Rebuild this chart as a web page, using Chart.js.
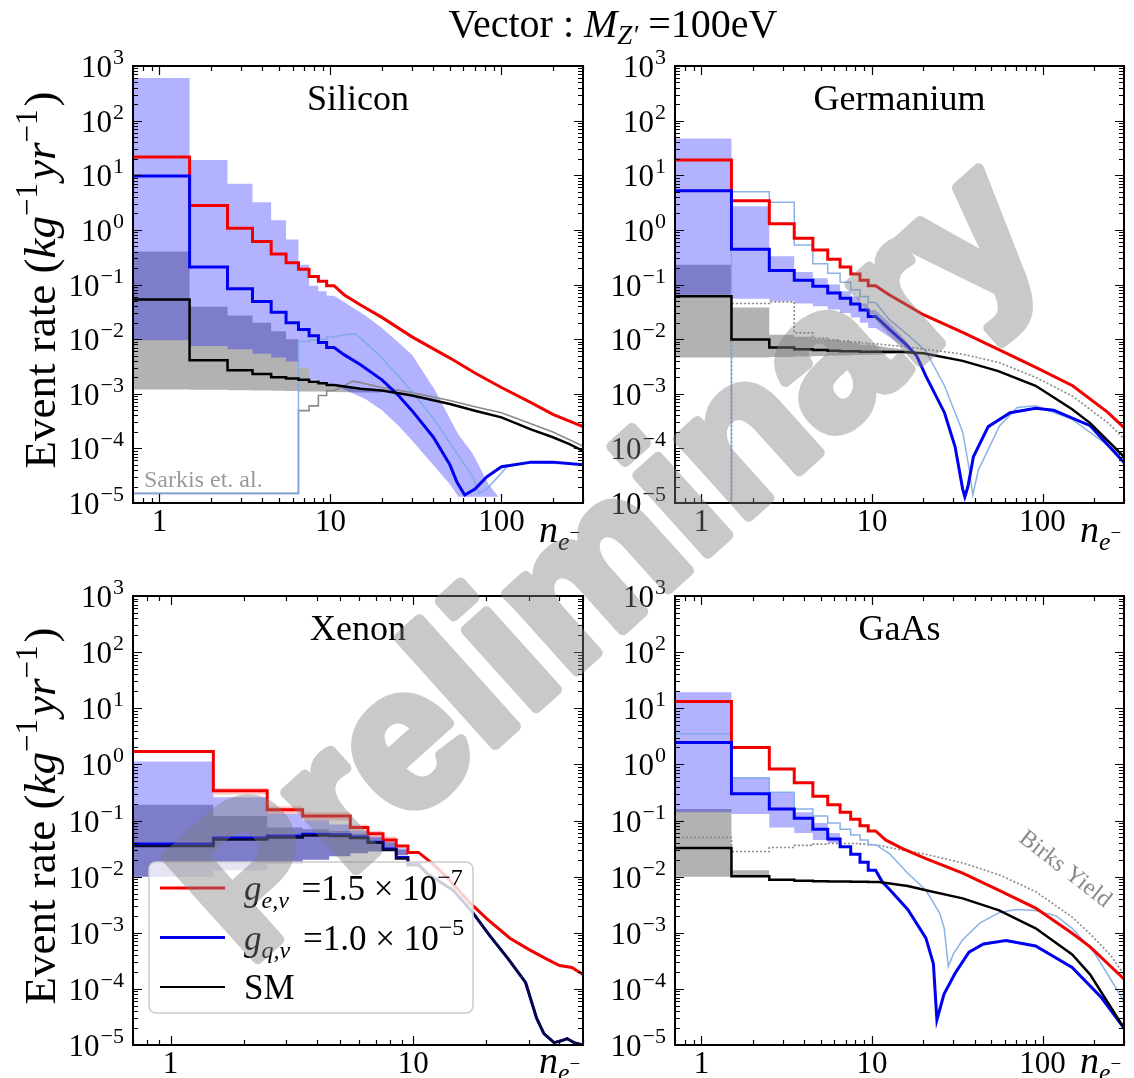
<!DOCTYPE html>
<html>
<head>
<meta charset="utf-8">
<script src="https://cdn.jsdelivr.net/npm/chart.js@4.4.1/dist/chart.umd.min.js"></script>
<style>
  body { margin: 0; background: #fff; width: 1134px; height: 1078px; position: relative; overflow: hidden; }
  canvas { position: absolute; }
  #overlay { left: 0; top: 0; pointer-events: none; z-index: 10; }
</style>
</head>
<body>
<canvas id="overlay" width="1134" height="1078"></canvas>
<script>
// ---------- data (bins = values of n_e = 1,2,3,... drawn as steps; tails = read points at larger n_e) ----------

// Silicon
const siRedBins = [21.6, 2.8, 1.07, 0.61, 0.36, 0.25, 0.19, 0.14, 0.115, 0.095];
const siRedTailN = [12, 15, 20, 30, 50, 70, 100, 150, 200, 300];
const siRedTailV = [0.065, 0.042, 0.025, 0.011, 0.0045, 0.0024, 0.0013, 0.00068, 0.00042, 0.00025];
const siBlueBins = [9.7, 0.21, 0.084, 0.049, 0.031, 0.02, 0.015, 0.0115, 0.0087, 0.007];
const siBlueTailN = [12, 15, 20, 25, 30, 40, 50, 55, 61, 70, 82, 100, 150, 200, 300];
const siBlueTailV = [0.0052, 0.0034, 0.0018, 0.00093, 0.00049, 0.00016, 0.00005, 0.000024, 0.000014, 0.000018, 0.00003, 0.000046, 0.000056, 0.000056, 0.00005];
const siBlackBins = [0.053, 0.0041, 0.0027, 0.0023, 0.002, 0.0019, 0.0018, 0.00165, 0.00155, 0.00145];
const siBlackTailN = [15, 20, 30, 50, 70, 100, 150, 200, 250, 300];
const siBlackTailV = [0.00124, 0.00115, 0.00093, 0.00065, 0.00049, 0.00037, 0.00022, 0.00016, 0.00012, 0.00009];
const siLightBins = [1.5e-5, 1.5e-5, 1.5e-5, 1.5e-5, 1.5e-5, 1.5e-5, 0.009, 0.0095, 0.01, 0.011];
const siLightTailN = [12, 14, 16, 20, 25, 30, 41, 55, 68, 74, 82, 108, 150, 300];
const siLightTailV = [0.012, 0.0125, 0.0087, 0.0045, 0.0021, 0.0011, 0.00032, 0.00008, 0.00003, 0.000015, 0.000018, 0.000046, 0.000056, 0.00005];
const siSarkisBins = [1.5e-5, 1.5e-5, 1.5e-5, 1.5e-5, 1.5e-5, 1.5e-5, 0.00049, 0.0006, 0.00093, 0.00115];
const siSarkisTailN = [12, 13.5, 15, 20, 30, 50, 70, 100, 150, 200, 300];
const siSarkisTailV = [0.0014, 0.0017, 0.0016, 0.0013, 0.00105, 0.00075, 0.00058, 0.00045, 0.00028, 0.0002, 0.00011];
const siGrayHiBins = [0.4, 0.039, 0.027, 0.02, 0.014, 0.01, 0.003, 0.0017, 0.0016, 0.0015];
const siGrayLoBins = [0.0012, 0.00118, 0.00116, 0.00115, 0.00113, 0.00112, 0.0011, 0.0011, 0.0011, 0.00108];
const siGrayBandN = [15, 20];
const siGrayHiTail = [0.00128, 0.00115];
const siGrayLoTail = [0.00105, 0.00105];
const siBlueHiBins = [600, 19, 7, 3.2, 1.5, 0.67, 0.23, 0.095, 0.075, 0.062];
const siBlueLoBins = [0.0095, 0.0075, 0.0065, 0.0054, 0.0046, 0.0039, 0.003, 0.0018, 0.0016, 0.0015];
const siBlueBandN = [12, 16, 20, 25, 30, 41, 50, 56, 68, 84, 96];
const siBlueHiTail = [0.048, 0.027, 0.016, 0.0087, 0.0052, 0.00115, 0.00035, 0.00018, 0.00008, 0.000022, 0.000013];
const siBlueLoTail = [0.0012, 0.0008, 0.0005, 0.00026, 0.00014, 0.000045, 0.000022, 0.000013, 0.000013, 0.000013, 0.000013];

// Germanium
const geRedBins = [19, 3.4, 1.3, 0.7, 0.43, 0.29, 0.21, 0.155, 0.12, 0.095];
const geRedTailN = [12.6, 16, 20, 34, 55, 90, 150, 240, 300];
const geRedTailV = [0.065, 0.042, 0.028, 0.0133, 0.0065, 0.0031, 0.0014, 0.00046, 0.00024];
const geBlueBins = [5.2, 0.44, 0.18, 0.12, 0.093, 0.07, 0.056, 0.044, 0.034, 0.026];
const geBlueTailN = [12.6, 16.2, 18.3, 20.7, 26.6, 30.7, 34, 35, 36.5, 39.3, 48, 64.5, 91, 116, 190, 300];
const geBlueTailV = [0.0153, 0.0075, 0.0049, 0.0021, 0.00045, 0.000107, 0.000018, 0.000013, 0.00002, 0.00007, 0.00025, 0.00045, 0.00054, 0.0005, 0.00026, 0.000055];
const geBlackBins = [0.061, 0.0098, 0.007, 0.0065, 0.0063, 0.0061, 0.006, 0.006, 0.0059, 0.0059];
const geBlackTailN = [15, 20, 34, 55, 91, 149, 190, 300];
const geBlackTailV = [0.0058, 0.0055, 0.004, 0.0026, 0.0014, 0.00052, 0.00029, 0.00007];
const geLightBins = [1e-6, 5, 3.2, 0.53, 0.24, 0.16, 0.11, 0.08, 0.06, 0.047];
const geLightTailN = [12.6, 16.2, 20.7, 26.6, 34, 37, 39, 42, 56, 71, 91, 149, 300];
const geLightTailV = [0.023, 0.012, 0.006, 0.0014, 0.0002, 0.000045, 0.000014, 0.00004, 0.00026, 0.00056, 0.0006, 0.00034, 0.00007];
const geDotBins = [1e-6, 0.045, 0.048, 0.013, 0.0105, 0.0097, 0.0092, 0.0088, 0.0085, 0.0082];
const geDotTailN = [16, 34, 56, 91, 150, 243, 300];
const geDotTailV = [0.0072, 0.0053, 0.0037, 0.002, 0.0009, 0.00029, 0.00015];
const geGrayHiBins = [0.23, 0.038, 0.012, 0.011, 0.0102, 0.0096, 0.009, 0.0085, 0.008, 0.0077];
const geGrayLoBins = [0.0046, 0.0046, 0.0047, 0.0048, 0.0049, 0.005, 0.005, 0.0051, 0.0051, 0.0052];
const geGrayBandN = [12, 15, 18];
const geGrayHiTail = [0.0071, 0.0065, 0.006];
const geGrayLoTail = [0.0053, 0.0056, 0.006];
const geBlueHiBins = [47, 2.7, 0.33, 0.17, 0.13, 0.1, 0.075, 0.06, 0.045, 0.034];
const geBlueLoBins = [0.065, 0.055, 0.05, 0.045, 0.04, 0.035, 0.03, 0.025, 0.02, 0.016];
const geBlueBandN = [12.6, 16, 18];
const geBlueHiTail = [0.02, 0.009, 0.005];
const geBlueLoTail = [0.011, 0.0065, 0.005];

// Xenon
const xeRedBins = [1.7, 0.34, 0.155, 0.12, 0.12, 0.075, 0.058, 0.045, 0.035, 0.027];
const xeRedTailN = [12, 14, 17, 20, 25, 30, 35, 40, 45, 50];
const xeRedTailV = [0.017, 0.009, 0.0035, 0.0018, 0.0008, 0.0005, 0.00035, 0.00026, 0.00024, 0.00018];
const xeBlueBins = [0.038, 0.049, 0.053, 0.057, 0.056, 0.051, 0.041, 0.031, 0.022, 0.0165];
const xeBlueTailN = [11.5, 14.6, 17.3, 20.6, 24.5, 29, 32.2, 34.5, 38, 41, 43, 46, 50];
const xeBlueTailV = [0.011, 0.0057, 0.0025, 0.0009, 0.00035, 0.00013, 0.00003, 0.000016, 0.000011, 0.000012, 0.000013, 0.000011, 0.00001];
const xeBlackBins = [0.035, 0.046, 0.05, 0.054, 0.053, 0.049, 0.04, 0.03, 0.021, 0.016];
const xeBlackTailN = [11.5, 14.6, 17.3, 20.6, 24.5, 29, 32.2, 34.5, 38, 41, 43, 46, 50];
const xeBlackTailV = [0.011, 0.0057, 0.0025, 0.0009, 0.00035, 0.00013, 0.00003, 0.000016, 0.000011, 0.000012, 0.000013, 0.000011, 0.00001];
const xeBlueHiBins = [1.13, 0.26, 0.13, 0.1, 0.085, 0.065, 0.052, 0.042, 0.032];
const xeBlueLoBins = [0.01, 0.013, 0.017, 0.02, 0.023, 0.026, 0.028, 0.028, 0.024];
const xeGrayHiBins = [0.19, 0.12, 0.075, 0.07, 0.065, 0.058, 0.05, 0.04, 0.03];
const xeGrayLoBins = [0.01, 0.013, 0.017, 0.02, 0.023, 0.026, 0.028, 0.028, 0.024];
const xeRedHiBins = [1.7, 0.38, 0.18, 0.14, 0.14, 0.085, 0.066, 0.052];
const xeRedLoBins = [1.7, 0.29, 0.13, 0.1, 0.1, 0.065, 0.05, 0.04];

// GaAs
const gaRedBins = [13.2, 2.0, 0.83, 0.47, 0.27, 0.19, 0.14, 0.105, 0.081, 0.065];
const gaRedTailN = [12, 15, 20.7, 34, 55.6, 91, 149, 190, 300];
const gaRedTailV = [0.045, 0.032, 0.021, 0.0115, 0.0057, 0.00275, 0.00098, 0.00056, 0.00015];
const gaBlueBins = [2.45, 0.3, 0.16, 0.11, 0.07, 0.047, 0.034, 0.025, 0.018, 0.013];
const gaBlueTailN = [11.5, 12.6, 16.2, 20.7, 22.9, 24, 26.4, 30.7, 37, 45, 61, 91, 149, 221, 300];
const gaBlueTailV = [0.008, 0.006, 0.0026, 0.0008, 0.00028, 0.000028, 0.00008, 0.00019, 0.00045, 0.00063, 0.00073, 0.00058, 0.00024, 0.00007, 0.00002];
const gaBlackBins = [0.0325, 0.0102, 0.0088, 0.0084, 0.0083, 0.0082, 0.0082, 0.0081, 0.0081, 0.008];
const gaBlackTailN = [11, 16.2, 20.7, 34, 55.6, 91, 149, 190, 300];
const gaBlackTailV = [0.008, 0.0068, 0.0057, 0.0041, 0.0025, 0.0012, 0.00041, 0.00018, 0.00002];
const gaLightBins = [3.5, 0.57, 0.32, 0.16, 0.12, 0.09, 0.07, 0.055, 0.045, 0.037];
const gaLightTailN = [12.6, 16.2, 20.7, 25, 26.5, 28, 30, 34, 43, 56, 70, 91, 120, 149, 200, 250, 300];
const gaLightTailV = [0.026, 0.0115, 0.0057, 0.0022, 0.0012, 0.00025, 0.00042, 0.00075, 0.0015, 0.0023, 0.0026, 0.0025, 0.002, 0.0012, 0.00045, 0.00015, 0.00006];
const gaBirksBins = [0.05, 0.028, 0.033, 0.036, 0.038, 0.039, 0.039, 0.039, 0.038, 0.037];
const gaBirksTailN = [12.6, 20.7, 34, 56, 91, 149, 190, 250, 300];
const gaBirksTailV = [0.033, 0.025, 0.0175, 0.0107, 0.0054, 0.0019, 0.00095, 0.0004, 0.00018];
const gaGrayHiBins = [0.16, 0.013];
const gaGrayLoBins = [0.01, 0.01];
const gaBlueHiBins = [19.3, 0.59, 0.32, 0.14, 0.09, 0.06];
const gaBlueLoBins = [0.14, 0.13, 0.075, 0.06, 0.045, 0.04];

// axes
const yDecades = [-5, -4, -3, -2, -1, 0, 1, 2, 3];
const xTicksWide = [1, 10, 100];
const xTicksXe = [1, 10];

// ---------- styles ----------
const SERIF = '"Liberation Serif", "DejaVu Serif", serif';
const RED = '#f20000', BLUE = '#0000f0', BLACK = '#000000';
const LIGHT = 'rgba(125,170,228,0.9)', DOTGRAY = '#8a8a8a';
const BLUE_FILL = 'rgba(0,0,255,0.3)', GRAY_FILL = 'rgba(0,0,0,0.3)', RED_FILL = 'rgba(255,0,0,0.22)';

// step histogram: bin k (value index k-1) spans k-0.5 .. k+0.5, then the read tail points
function steps(bins, tailN, tailV) {
  const pts = [];
  bins.forEach((v, i) => { pts.push({x: i + 0.5, y: v}, {x: i + 1.5, y: v}); });
  (tailN || []).forEach((n, i) => pts.push({x: n, y: tailV[i]}));
  return pts;
}
function line(pts, color, width, order, dash) {
  return {data: pts, borderColor: color, borderWidth: width, order: order, fill: false,
          borderDash: dash || [], pointRadius: 0, tension: 0};
}
function band(hi, lo, color, order) {
  return [
    {data: hi, borderColor: 'transparent', borderWidth: 0, backgroundColor: color, fill: '+1', order: order, pointRadius: 0},
    {data: lo, borderColor: 'transparent', borderWidth: 0, fill: false, order: order, pointRadius: 0}
  ];
}

// draw a run of text pieces (math-like: italics, sub/superscripts)
function runs(ctx, parts, x, y, align) {
  let w = 0;
  parts.forEach(p => {
    ctx.font = (p.i ? 'italic ' : '') + p.s + 'px ' + SERIF;
    p.w = ctx.measureText(p.t).width;
    w += p.w + (p.g || 0);
  });
  let cx = align === 'center' ? x - w / 2 : (align === 'right' ? x - w : x);
  ctx.textAlign = 'left';
  ctx.textBaseline = 'alphabetic';
  parts.forEach(p => {
    ctx.font = (p.i ? 'italic ' : '') + p.s + 'px ' + SERIF;
    ctx.fillText(p.t, cx, y + (p.dy || 0));
    cx += p.w + (p.g || 0);
  });
  return w;
}

function drawLegend(ctx, a) {
  const x0 = a.left + 16, y0 = a.bottom - 183;
  ctx.save();
  ctx.beginPath();
  if (ctx.roundRect) ctx.roundRect(x0, y0, 324, 151, 7); else ctx.rect(x0, y0, 324, 151);
  ctx.fillStyle = 'rgba(255,255,255,0.8)';
  ctx.fill();
  ctx.strokeStyle = '#cccccc';
  ctx.lineWidth = 1.5;
  ctx.stroke();
  const rows = [
    {c: RED, lw: 3, parts: [{t: 'g', i: 1, s: 35}, {t: 'e,v', i: 1, s: 24, dy: 8, g: 4}, {t: ' =1.5 × 10', s: 35}, {t: '−7', s: 24, dy: -15}]},
    {c: BLUE, lw: 3, parts: [{t: 'g', i: 1, s: 35}, {t: 'q,v', i: 1, s: 24, dy: 8, g: 4}, {t: ' =1.0 × 10', s: 35}, {t: '−5', s: 24, dy: -15}]},
    {c: BLACK, lw: 2, parts: [{t: 'SM', s: 35}]}
  ];
  rows.forEach((r, i) => {
    const cy = a.bottom - 157 + i * 49.5;
    ctx.strokeStyle = r.c;
    ctx.lineWidth = r.lw;
    ctx.beginPath();
    ctx.moveTo(a.left + 27, cy);
    ctx.lineTo(a.left + 92, cy);
    ctx.stroke();
    ctx.fillStyle = '#000';
    runs(ctx, r.parts, a.left + 111, cy + 12, 'left');
  });
  ctx.restore();
}

function frame(p) {
  return {
    id: 'frame_' + p.key,
    afterDraw(chart) {
      const ctx = chart.ctx, a = chart.chartArea, xs = chart.scales.x, ys = chart.scales.y;
      ctx.save();
      ctx.strokeStyle = '#000';
      ctx.lineWidth = 1.2;
      ctx.beginPath();
      for (let k = -1; k <= 2; k++) for (let m = 1; m <= 9; m++) {
        const v = m * Math.pow(10, k);
        if (v < xs.min || v > xs.max) continue;
        const px = Math.round(xs.getPixelForValue(v)) + 0.5, len = m === 1 ? 9 : 5;
        ctx.moveTo(px, a.bottom); ctx.lineTo(px, a.bottom - len);
        ctx.moveTo(px, a.top); ctx.lineTo(px, a.top + len);
      }
      for (let k = -5; k <= 3; k++) for (let m = 1; m <= 9; m++) {
        const v = m * Math.pow(10, k);
        if (v > ys.max * 1.0001) continue;
        const py = Math.round(ys.getPixelForValue(v)) + 0.5, len = m === 1 ? 9 : 5;
        ctx.moveTo(a.left, py); ctx.lineTo(a.left + len, py);
        ctx.moveTo(a.right, py); ctx.lineTo(a.right - len, py);
      }
      ctx.stroke();
      ctx.lineWidth = 2;
      ctx.strokeRect(a.left, a.top, a.right - a.left, a.bottom - a.top);

      // y tick labels 10^e
      ctx.fillStyle = '#000';
      yDecades.forEach(e => {
        const py = ys.getPixelForValue(Math.pow(10, e));
        const ex = e < 0 ? '−' + (-e) : String(e);
        ctx.font = '22px ' + SERIF;
        const ew = ctx.measureText(ex).width;
        ctx.textAlign = 'left';
        ctx.fillText(ex, a.left - 9 - ew, py - 2);
        ctx.font = '31px ' + SERIF;
        ctx.textAlign = 'right';
        ctx.fillText('10', a.left - 10 - ew, py + 11);
      });

      // panel name
      ctx.font = '36px ' + SERIF;
      ctx.textAlign = 'center';
      ctx.fillText(p.name, (a.left + a.right) / 2, a.top + 44);

      // n_e- label
      runs(ctx, [{t: 'n', i: 1, s: 38}, {t: 'e', i: 1, s: 26, dy: 8}, {t: '−', s: 19, dy: -3}], a.right - 44, a.bottom + p.nY, 'left');

      if (p.extra) p.extra(ctx, a);
      ctx.restore();
    }
  };
}

// ---------- panels ----------
const panels = [
  {key: 'si', name: 'Silicon', L: 133, T: 66, R: 583, B: 503, nY: 39, xMax: 300, xTicks: xTicksWide,
   sets: [
     ...band(steps(siGrayHiBins, siGrayBandN, siGrayHiTail), steps(siGrayLoBins, siGrayBandN, siGrayLoTail), GRAY_FILL, 10),
     ...band(steps(siBlueHiBins, siBlueBandN, siBlueHiTail), steps(siBlueLoBins, siBlueBandN, siBlueLoTail), BLUE_FILL, 9),
     line(steps(siSarkisBins, siSarkisTailN, siSarkisTailV), DOTGRAY, 1.6, 6),
     line(steps(siLightBins, siLightTailN, siLightTailV), LIGHT, 1.5, 5),
     line(steps(siRedBins, siRedTailN, siRedTailV), RED, 3, 3),
     line(steps(siBlueBins, siBlueTailN, siBlueTailV), BLUE, 3, 2),
     line(steps(siBlackBins, siBlackTailN, siBlackTailV), BLACK, 2.5, 1)
   ],
   extra(ctx, a) {
     ctx.fillStyle = '#9a9a9a';
     ctx.font = '24px ' + SERIF;
     ctx.textAlign = 'left';
     ctx.fillText('Sarkis et. al.', a.left + 11, a.bottom - 16);
   }},
  {key: 'ge', name: 'Germanium', L: 675, T: 66, R: 1124, B: 503, nY: 39, xMax: 300, xTicks: xTicksWide,
   sets: [
     ...band(steps(geGrayHiBins, geGrayBandN, geGrayHiTail), steps(geGrayLoBins, geGrayBandN, geGrayLoTail), GRAY_FILL, 10),
     ...band(steps(geBlueHiBins, geBlueBandN, geBlueHiTail), steps(geBlueLoBins, geBlueBandN, geBlueLoTail), BLUE_FILL, 9),
     line(steps(geDotBins, geDotTailN, geDotTailV), DOTGRAY, 1.6, 6, [2, 2]),
     line(steps(geLightBins, geLightTailN, geLightTailV), LIGHT, 1.5, 5),
     line(steps(geRedBins, geRedTailN, geRedTailV), RED, 3, 3),
     line(steps(geBlueBins, geBlueTailN, geBlueTailV), BLUE, 3, 2),
     line(steps(geBlackBins, geBlackTailN, geBlackTailV), BLACK, 2.5, 1)
   ]},
  {key: 'xe', name: 'Xenon', L: 133, T: 596, R: 583, B: 1045, nY: 28, xMax: 50, xTicks: xTicksXe,
   sets: [
     ...band(steps(xeGrayHiBins), steps(xeGrayLoBins), GRAY_FILL, 10),
     ...band(steps(xeBlueHiBins), steps(xeBlueLoBins), BLUE_FILL, 9),
     ...band(steps(xeRedHiBins), steps(xeRedLoBins), RED_FILL, 8),
     line(steps(xeRedBins, xeRedTailN, xeRedTailV), RED, 3, 3),
     line(steps(xeBlueBins, xeBlueTailN, xeBlueTailV), BLUE, 3, 2),
     line(steps(xeBlackBins, xeBlackTailN, xeBlackTailV), '#0a0a30', 2.5, 1)
   ],
   extra(ctx, a) { drawLegend(ctx, a); }},
  {key: 'ga', name: 'GaAs', L: 675, T: 596, R: 1124, B: 1045, nY: 28, xMax: 300, xTicks: xTicksWide,
   sets: [
     ...band(steps(gaGrayHiBins), steps(gaGrayLoBins), GRAY_FILL, 10),
     ...band(steps(gaBlueHiBins), steps(gaBlueLoBins), BLUE_FILL, 9),
     line(steps(gaBirksBins, gaBirksTailN, gaBirksTailV), DOTGRAY, 1.6, 6, [2, 2]),
     line(steps(gaLightBins, gaLightTailN, gaLightTailV), LIGHT, 1.5, 5),
     line(steps(gaRedBins, gaRedTailN, gaRedTailV), RED, 3, 3),
     line(steps(gaBlueBins, gaBlueTailN, gaBlueTailV), BLUE, 3, 2),
     line(steps(gaBlackBins, gaBlackTailN, gaBlackTailV), BLACK, 2.5, 1)
   ],
   extra(ctx, a) {
     ctx.save();
     ctx.translate(a.left + 391, a.top + 272);
     ctx.rotate(38 * Math.PI / 180);
     ctx.fillStyle = '#8a8a8a';
     ctx.font = '24px ' + SERIF;
     ctx.textAlign = 'center';
     ctx.fillText('Birks Yield', 0, 8);
     ctx.restore();
   }}
];

panels.forEach(p => {
  const c = document.createElement('canvas');
  c.width = p.R - p.L + 80 + 12;
  c.height = p.B - p.T + 22 + 48;
  c.style.left = (p.L - 80) + 'px';
  c.style.top = (p.T - 22) + 'px';
  document.body.insertBefore(c, document.getElementById('overlay'));
  new Chart(c, {
    type: 'line',
    data: {datasets: p.sets},
    options: {
      responsive: false,
      animation: false,
      events: [],
      layout: {padding: {left: 0, right: 12, top: 22, bottom: 0}},
      elements: {point: {radius: 0}, line: {tension: 0}},
      plugins: {legend: {display: false}, tooltip: {enabled: false}},
      scales: {
        x: {
          type: 'logarithmic', min: 0.7, max: p.xMax,
          grid: {display: false}, border: {display: false},
          afterBuildTicks: s => { s.ticks = p.xTicks.map(v => ({value: v})); },
          afterFit: s => { s.height = 48; },
          ticks: {autoSkip: false, maxRotation: 0, color: '#000', padding: -7,
                  font: {family: SERIF, size: 31}, callback: v => String(v)}
        },
        y: {
          type: 'logarithmic', min: 1e-5, max: 1e3,
          grid: {display: false}, border: {display: false},
          ticks: {display: false},
          afterFit: s => { s.width = 80; }
        }
      }
    },
    plugins: [frame(p)]
  });
});

// ---------- overlay: title, axis titles, watermark ----------
const ov = document.getElementById('overlay').getContext('2d');
ov.fillStyle = '#000';
runs(ov, [{t: 'Vector : ', s: 40}, {t: 'M', i: 1, s: 40}, {t: 'Z′', i: 1, s: 27, dy: 7}, {t: ' =100eV', s: 40}], 613, 37, 'center');

[280, 816].forEach(cy => {
  ov.save();
  ov.translate(55, cy);
  ov.rotate(-Math.PI / 2);
  runs(ov, [{t: 'Event rate (', s: 45}, {t: 'kg', i: 1, s: 45}, {t: '−1', s: 31, dy: -18, g: 3},
            {t: 'yr', i: 1, s: 45}, {t: '−1', s: 31, dy: -18, g: 3}, {t: ')', s: 45}], 0, 0, 'center');
  ov.restore();
});

const off = document.createElement('canvas');
off.width = 1134; off.height = 1078;
const o = off.getContext('2d');
o.translate(612, 566);
o.rotate(-42 * Math.PI / 180);
o.font = 'bold 198px "Liberation Sans", Arial, sans-serif';
o.textAlign = 'center';
o.textBaseline = 'middle';
o.fillStyle = o.strokeStyle = '#7f7f7f';
o.lineWidth = 11;
o.lineJoin = 'round';
o.strokeText('Preliminary', 0, 0);
o.fillText('Preliminary', 0, 0);
ov.globalAlpha = 0.42;
ov.drawImage(off, 0, 0);
</script>
</body>
</html>
